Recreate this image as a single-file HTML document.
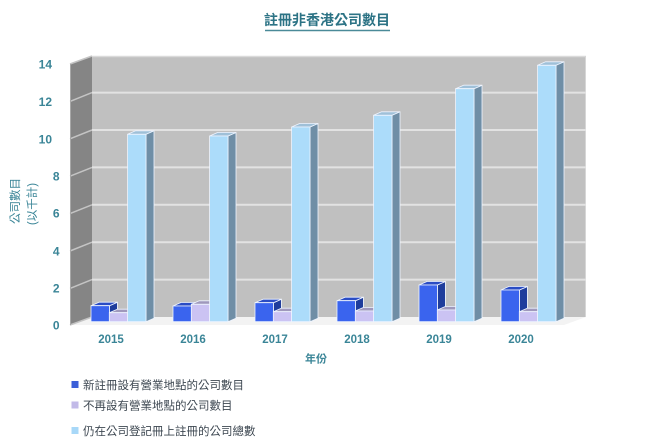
<!DOCTYPE html>
<html><head><meta charset="utf-8"><style>
html,body{margin:0;padding:0;background:#fff;}
svg{display:block;}
text{font-family:"Liberation Sans","Noto Sans CJK TC",sans-serif;}
</style></head><body>
<svg width="650" height="443" viewBox="0 0 650 443" xmlns="http://www.w3.org/2000/svg">
<!-- title -->
<text x="327" y="25" text-anchor="middle" font-size="14" fill="#2c7385" font-weight="bold">註冊非香港公司數目</text>
<line x1="265" y1="30.5" x2="390" y2="30.5" stroke="#4a8a98" stroke-width="1.5"/>

<!-- walls -->
<polygon points="70,325 92,317 586,317 564,325" fill="#f3f3f3"/>
<rect x="92" y="56" width="494" height="261" fill="#c0c0c0"/>
<line x1="92" y1="56.5" x2="586" y2="56.5" stroke="#dadada" stroke-width="1.5"/>
<line x1="585.5" y1="56" x2="585.5" y2="317" stroke="#d6d6d6" stroke-width="1"/>
<polygon points="70,64 92,56 92,317 70,325" fill="#858585"/>
<g stroke="#e2e2e2" stroke-width="2">
<line x1="92" y1="279.6" x2="586" y2="279.6"/>
<line x1="92" y1="242.2" x2="586" y2="242.2"/>
<line x1="92" y1="204.8" x2="586" y2="204.8"/>
<line x1="92" y1="167.4" x2="586" y2="167.4"/>
<line x1="92" y1="130" x2="586" y2="130"/>
<line x1="92" y1="92.6" x2="586" y2="92.6"/>
</g>
<g stroke="#c4c4c4" stroke-width="1.5">
<line x1="70" y1="64" x2="92" y2="56"/>
<line x1="70" y1="101.4" x2="92" y2="92.6"/>
<line x1="70" y1="138.8" x2="92" y2="130"/>
<line x1="70" y1="176.2" x2="92" y2="167.4"/>
<line x1="70" y1="213.6" x2="92" y2="204.8"/>
<line x1="70" y1="251" x2="92" y2="242.2"/>
<line x1="70" y1="288.4" x2="92" y2="279.6"/>
<line x1="70" y1="325" x2="92" y2="317"/>
</g>
<line x1="70.5" y1="64" x2="70.5" y2="325" stroke="#a8a8a8" stroke-width="1"/>

<!-- y tick labels -->
<g font-size="12" font-weight="bold" fill="#3a8597" text-anchor="end">
<text x="52" y="68.5">14</text>
<text x="52" y="106">12</text>
<text x="52" y="143.5">10</text>
<text x="59.5" y="180.5">8</text>
<text x="59.5" y="217.5">6</text>
<text x="59.5" y="255.5">4</text>
<text x="59.5" y="292.5">2</text>
<text x="59.5" y="329.5">0</text>
</g>

<!-- y axis title -->
<g font-size="11.5" fill="#3a8597" text-anchor="middle">
<text transform="translate(19,201) rotate(-90)">公司數目</text>
<text transform="translate(36,204) rotate(-90)">(以千計)</text>
</g>

<!-- bars -->
<g id="bars" stroke="#eef4ff" stroke-width="0.8" stroke-linejoin="round">
</g>

<!-- x labels -->
<g font-size="11.5" font-weight="bold" fill="#3a8597" text-anchor="middle">
<text x="111" y="343">2015</text>
<text x="193" y="343">2016</text>
<text x="275" y="343">2017</text>
<text x="357" y="343">2018</text>
<text x="439" y="343">2019</text>
<text x="521" y="343">2020</text>
</g>
<text x="316" y="362.5" text-anchor="middle" font-size="11" font-weight="bold" fill="#3a8597">年份</text>

<!-- legend -->
<rect x="71.5" y="381" width="7" height="7" fill="#3b5fd8"/>
<rect x="71.5" y="401.5" width="7" height="7" fill="#c2bae8"/>
<rect x="71.5" y="427" width="7" height="7" fill="#a8d8f8"/>
<g font-size="11.5" fill="#3e4852">
<text x="83" y="389">新註冊設有營業地點的公司數目</text>
<text x="83" y="409.5">不再設有營業地點的公司數目</text>
<text x="83" y="435">仍在公司登記冊上註冊的公司總數</text>
</g>
</svg>
<script>
(function(){
var g=document.getElementById('bars');
var ns='http://www.w3.org/2000/svg';
var b=321.7,dx=8,dy=-3.5,w=18.4;
var tops=[[305.7,312.7,134.3],[306,304.3,136],[302.7,311.7,127],[300.7,311,115.3],[285,310,88.7],[290,311.7,65.3]];
var cols=[["#3a64ee","#1f3d9c","#2a4cc4"],["#cbc3f3","#8a84a8","#9f98bc"],["#acdcfa","#6f8ea6","#9fc0d8"]];
function poly(pts,fill){var p=document.createElementNS(ns,'polygon');p.setAttribute('points',pts.map(function(a){return a[0].toFixed(1)+','+a[1].toFixed(1);}).join(' '));p.setAttribute('fill',fill);g.appendChild(p);}
for(var k=0;k<6;k++){
 var base=91+82*k;
 for(var s=0;s<3;s++){
  var x=base+s*18.3,t=tops[k][s],c=cols[s];
  poly([[x+w,t],[x+w+dx,t+dy],[x+w+dx,b+dy],[x+w,b]],c[1]);
  poly([[x,t],[x+dx,t+dy],[x+w+dx,t+dy],[x+w,t]],c[2]);
  poly([[x,t],[x+w,t],[x+w,b],[x,b]],c[0]);
 }
}
})();
</script>
</body></html>
